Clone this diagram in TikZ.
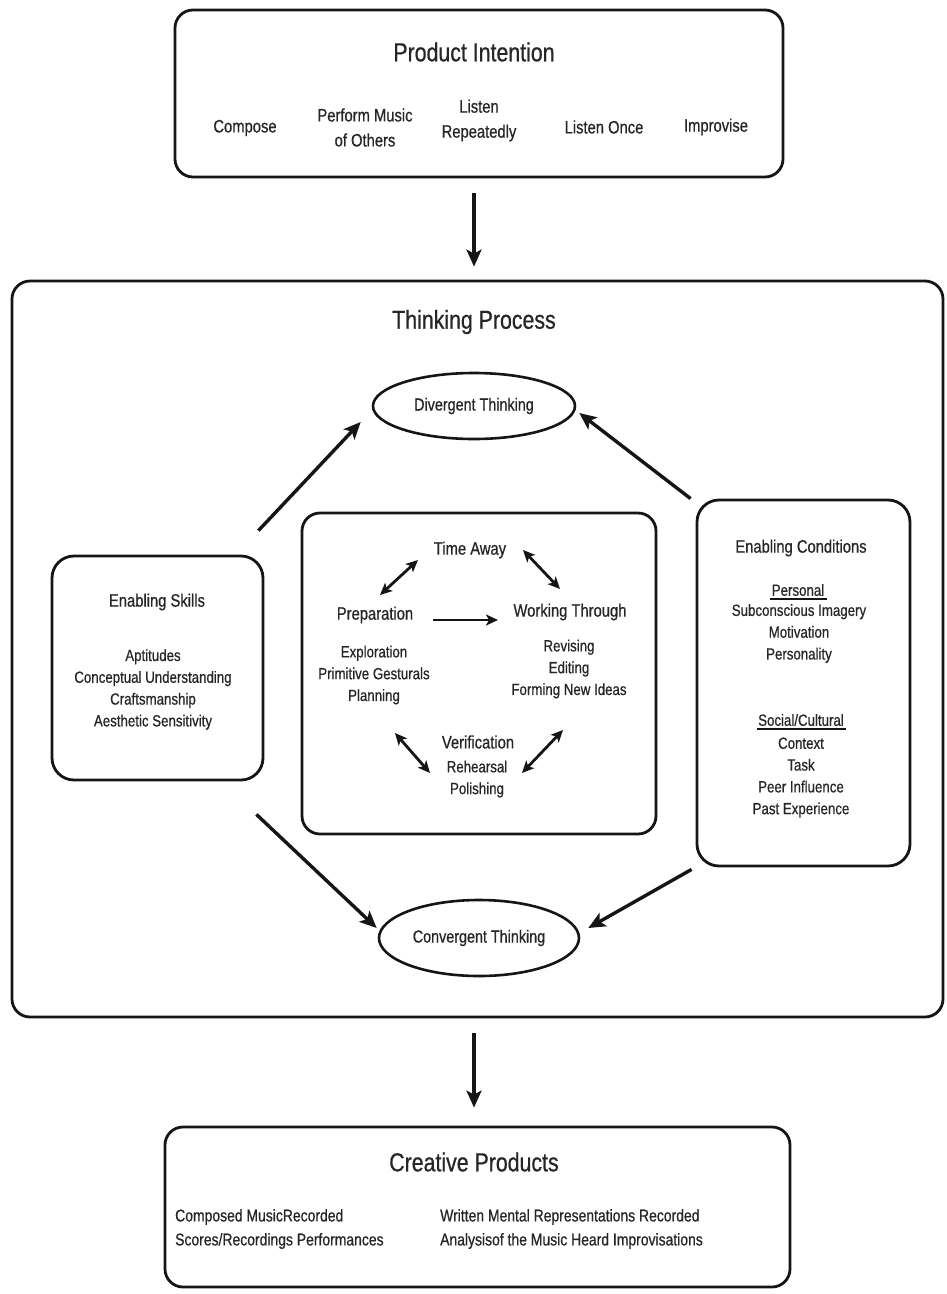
\documentclass[tikz,border=0pt]{standalone}
\usepackage{fontspec}
\setmainfont{Liberation Sans}[FakeStretch=0.82,FakeBold=0.6]
\usetikzlibrary{arrows.meta,shapes.geometric,calc}
\definecolor{ink}{HTML}{151515}
\definecolor{txt}{HTML}{262626}

\begin{document}
\begin{tikzpicture}[x=1pt,y=-1pt,
  frame/.style={draw=ink, line width=2.8pt, rounded corners=18pt, inner sep=0pt},
  oval/.style={draw=ink, line width=2.6pt, ellipse, inner sep=0pt, text=txt,
               font=\fontsize{17.5}{20}\selectfont},
  lbl/.style={text=txt, inner sep=0pt, align=center},
  headline/.style={lbl, font=\fontsize{26}{30}\selectfont},
  stage/.style={lbl, font=\fontsize{18}{25}\selectfont},
  entry/.style={lbl, font=\fontsize{16.2}{21.8}\selectfont},
  bigarrow/.style={draw=ink, line width=3.4pt,
                   -{Stealth[length=17pt,width=15pt,inset=4pt]}},
  twoway/.style={draw=ink, line width=2.8pt,
                 {Stealth[length=12pt,width=11pt,inset=3pt]}-{Stealth[length=12pt,width=11pt,inset=3pt]}},
  oneway/.style={draw=ink, line width=2.8pt,
                 -{Stealth[length=12pt,width=11pt,inset=3pt]}},
]
\fill[white] (0,0) rectangle (946,1294);
\useasboundingbox (0,0) rectangle (946,1294);

% ---------- Product Intention ----------
\node[frame, minimum width=608, minimum height=167] (pi) at (479,93.5) {};
\node[headline] (pit) at (474,52) {Product Intention};
\node[stage] (pi1) at (245,128) {Compose};
\node[stage] (pi2) at (365,127.5) {Perform Music\\of Others};
\node[stage] (pi3) at (479,120.5) {Listen\\Repeatedly};
\node[stage] (pi4) at (604,127) {Listen Once};
\node[stage] (pi5) at (716,127) {Improvise};

% ---------- Thinking Process ----------
\node[frame, minimum width=931, minimum height=736] (tp) at (477.5,649) {};
\node[headline] (tpt) at (474,322) {Thinking Process};

\node[oval, minimum width=202, minimum height=66] (dt) at (474,406) {Divergent Thinking};
\node[oval, minimum width=200, minimum height=76] (ct) at (479,938) {Convergent Thinking};

% Enabling skills
\node[frame, rounded corners=22pt, minimum width=211, minimum height=224] (es) at (157.5,668) {};
\node[stage] (est) at (157,602) {Enabling Skills};
\node[entry] (esl) at (153,689.5) {Aptitudes\\Conceptual Understanding\\Craftsmanship\\Aesthetic Sensitivity};

% Creative process cycle
\node[frame, minimum width=354, minimum height=321] (cc) at (479,673.5) {};
\node[stage] (ta) at (470,550) {Time Away};
\node[stage] (prep) at (375,615) {Preparation};
\node[stage] (wt) at (570,612) {Working Through};
\node[stage] (ver) at (478,742) {Verification};
\node[entry] (prepl) at (374,675) {Exploration\\Primitive Gesturals\\Planning};
\node[entry] (wtl) at (569,669) {Revising\\Editing\\Forming New Ideas};
\node[entry] (verl) at (477,779) {Rehearsal\\Polishing};

\draw[twoway] ($(ta)+(-52,10)$) -- ($(prep)+(5,-20)$);
\draw[twoway] ($(ta)+(53,0)$) -- ($(wt)+(-10,-23)$);
\draw[oneway] ($(prep)+(58,5)$) -- ($(wt)+(-72,8)$);
\draw[twoway] ($(ver)+(-83,-9)$) -- ($(ver)+(-48,31)$);
\draw[twoway] ($(ver)+(85,-12)$) -- ($(ver)+(44,31)$);

% Enabling conditions
\node[frame, rounded corners=22pt, minimum width=213, minimum height=366] (ec) at (803.5,683) {};
\node[stage] (ect) at (801,548) {Enabling Conditions};
\node[entry] (pers) at (798,590) {Personal};
\draw[ink, line width=1.8pt] ($(pers.south west)+(-2,3)$) -- ($(pers.south east)+(3,3)$);
\node[entry] (persl) at (799,633.5) {Subconscious Imagery\\Motivation\\Personality};
\node[entry] (soc) at (801,720) {Social/Cultural};
\draw[ink, line width=1.8pt] ($(soc.south west)+(-1,3)$) -- ($(soc.south east)+(2,3)$);
\node[entry] (socl) at (801,777.5) {Context\\Task\\Peer Influence\\Past Experience};

% Arrows into the thinking modes
\draw[bigarrow] ($(es.north east)+(-6,-24)$) -- ($(dt.west)+(-11,16)$);
\draw[bigarrow] ($(ec.north west)+(-5,0)$) -- ($(dt.east)+(3,7)$);
\draw[bigarrow] ($(es.south east)+(-8,33)$) -- ($(ct.west)+(-1,-10)$);
\draw[bigarrow] ($(ec.south west)+(-4,2)$) -- ($(ct.east)+(8,-10)$);

% ---------- Creative Products ----------
\node[frame, minimum width=625, minimum height=160] (cp) at (477.5,1207) {};
\node[headline] (cpt) at (474,1162) {Creative Products};
\node[lbl, align=left, anchor=west, font=\fontsize{17}{24}\selectfont] (cpl) at (175,1229)
  {Composed MusicRecorded\\Scores/Recordings Performances};
\node[lbl, align=left, anchor=west, font=\fontsize{17}{24}\selectfont] (cpr) at (440,1229)
  {Written Mental Representations Recorded\\Analysisof the Music Heard Improvisations};

% Main flow
\draw[bigarrow] ($(pi.south)+(-5,15)$) -- ($(tp.north)+(-3.5,-13)$);
\draw[bigarrow] ($(tp.south)+(-3.5,15)$) -- ($(cp.north)+(-3.5,-18)$);
\end{tikzpicture}
\end{document}
